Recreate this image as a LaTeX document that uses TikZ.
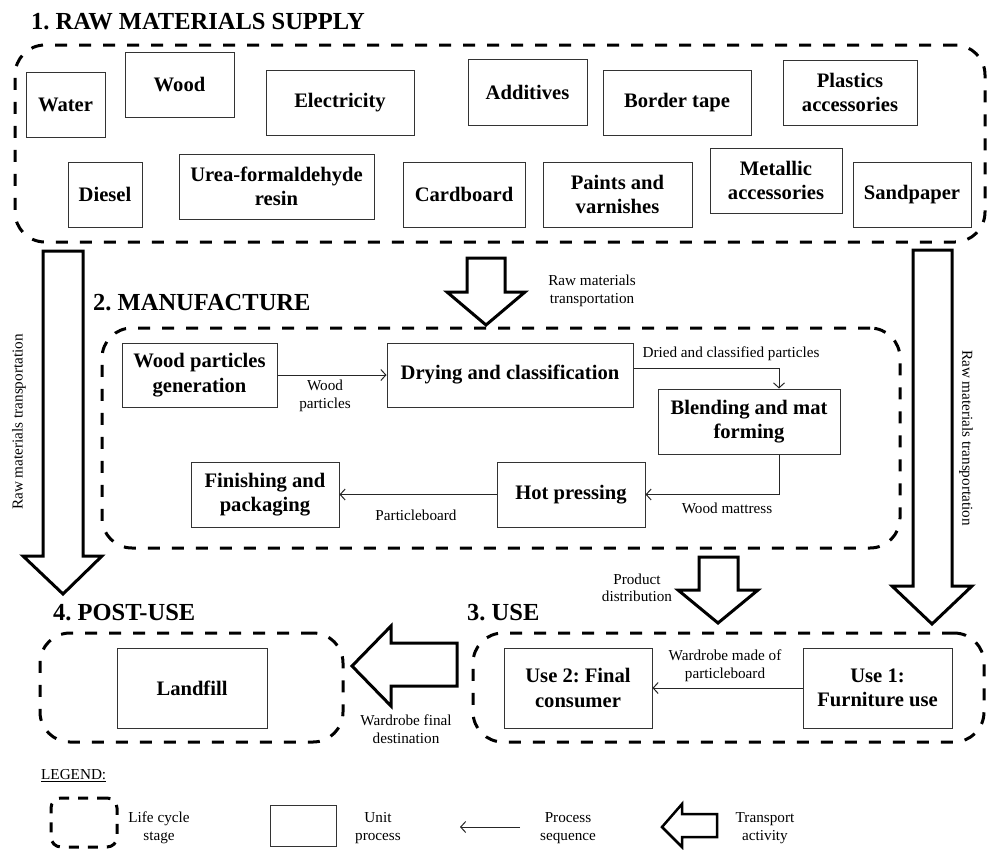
\documentclass[tikz,border=0pt]{standalone}
\usepackage{fontspec}
\setmainfont{Liberation Serif}
\usetikzlibrary{arrows.meta,calc}

\tikzset{
  stage/.style={draw, line width=3pt, dash pattern=on 12pt off 12pt, rounded corners=30pt},
  ubox/.style={draw=black!80, line width=1pt, fill=white, align=center, inner sep=0pt,
    font=\fontsize{20.6}{24.5}\selectfont\bfseries},
  lbl/.style={align=center, inner sep=0pt, font=\fontsize{15.2}{17.5}\selectfont},
  ttl/.style={anchor=base west, inner sep=0pt, font=\fontsize{24.5}{28}\selectfont\bfseries},
  flow/.style={draw=black!85, line width=1pt, -{Straight Barb[length=5pt,width=11pt]}},
  transport/.style={draw, line width=3pt, fill=white, line join=miter, miter limit=10},
}

\begin{document}
\begin{tikzpicture}[x=1pt, y=-1pt]
\useasboundingbox (0,0) rectangle (990,849);

% ---------- 1. Raw materials supply ----------
\node[ttl] (t1) at (31,29) {1.\ RAW MATERIALS SUPPLY};
\node[stage, minimum width=970pt, minimum height=197pt] (s1) at (500,143.5) {};

\node[ubox, minimum width=79pt,  minimum height=65pt] (water) at (65.5,104.5) {Water};
\node[ubox, minimum width=109pt, minimum height=65pt] (wood)  at (179.5,84.5) {Wood};
\node[ubox, minimum width=148pt, minimum height=65pt] (elec)  at (340,102.5) {Electricity};
\node[ubox, minimum width=119pt, minimum height=66pt] (addi)  at (527.5,92) {Additives};
\node[ubox, minimum width=148pt, minimum height=65pt] (tape)  at (677,102.5) {Border tape};
\node[ubox, minimum width=134pt, minimum height=65pt] (plas)  at (850,92.5) {Plastics\\accessories};

\node[ubox, minimum width=74pt,  minimum height=65pt] (dies)  at (105,194.5) {Diesel};
\node[ubox, minimum width=195pt, minimum height=65pt] (urea)  at (276.5,186.5) {Urea-formaldehyde\\resin};
\node[ubox, minimum width=122pt, minimum height=65pt] (card)  at (464,194.5) {Cardboard};
\node[ubox, minimum width=149pt, minimum height=65pt] (paint) at (617.5,194.5) {Paints and\\varnishes};
\node[ubox, minimum width=132pt, minimum height=65pt] (metal) at (776,180.5) {Metallic\\accessories};
\node[ubox, minimum width=118pt, minimum height=65pt] (sand)  at (912,194.5) {Sandpaper};

% ---------- transport from raw materials ----------
\draw[transport] (43,251) -- (83,251) -- (83,556) -- (102,556) -- (63,594) -- (23,556) -- (43,556) -- cycle;
\node[lbl, rotate=90] (tleft) at (19,422) {Raw materials transportation};

\draw[transport] (913,250) -- (952,250) -- (952,586) -- (972,586) -- (932,624) -- (892,586) -- (913,586) -- cycle;
\node[lbl, rotate=-90] (tright) at (966,438) {Raw materials transportation};

\draw[transport] (467,258) -- (505,258) -- (505,292) -- (525,292) -- (486,325) -- (447,292) -- (467,292) -- cycle;
\node[lbl] (tmid) at (592,291) {Raw materials\\transportation};

% ---------- 2. Manufacture ----------
\node[ttl] (t2) at (93,310) {2.\ MANUFACTURE};
\node[stage, minimum width=798pt, minimum height=220pt] (s2) at (501,438) {};

\node[ubox, minimum width=155pt, minimum height=64pt] (wpg)   at (199.5,375) {Wood particles\\generation};
\node[ubox, minimum width=246pt, minimum height=64pt] (dry)   at (510,375) {Drying and classification};
\node[ubox, minimum width=182pt, minimum height=65pt] (blend) at (749,421.5) {Blending and mat\\forming};
\node[ubox, minimum width=148pt, minimum height=65pt] (hot)   at (571,494.5) {Hot pressing};
\node[ubox, minimum width=148pt, minimum height=65pt] (fin)   at (265,494.5) {Finishing and\\packaging};

\draw[flow] (wpg.east) -- (dry.west);
\node[lbl] (lwp) at (325,396) {Wood\\particles};
\draw[flow] ([yshift=7pt]dry.east) -| ([xshift=30pt]blend.north);
\node[lbl] (ldry) at (731,354) {Dried and classified particles};
\draw[flow] ([xshift=30pt]blend.south) |- (hot.east);
\node[lbl] (lmat) at (727,508) {Wood mattress};
\draw[flow] (hot.west) -- (fin.east);
\node[lbl] (lpb) at (416,515) {Particleboard};

% ---------- distribution ----------
\draw[transport] (699,557) -- (738,557) -- (738,590) -- (758,590) -- (718,623) -- (678,590) -- (699,590) -- cycle;
\node[lbl] (ldist) at (637,588) {Product\\distribution};

% ---------- 3. Use and 4. Post-use ----------
\node[ttl] (t3) at (467,620) {3.\ USE};
\node[ttl] (t4) at (53,620) {4.\ POST-USE};

\node[stage, minimum width=303pt, minimum height=109pt] (s4) at (191.5,687.5) {};
\node[ubox, minimum width=150pt, minimum height=80pt] (land) at (192,688) {Landfill};

\node[stage, minimum width=511pt, minimum height=109pt] (s3) at (728.5,687.5) {};
\node[ubox, minimum width=148pt, minimum height=80pt] (use2) at (578,688) {Use 2:\ Final\\consumer};
\node[ubox, minimum width=149pt, minimum height=80pt] (use1) at (877.5,688) {Use 1:\\Furniture use};

\draw[flow] (use1.west) -- (use2.east);
\node[lbl] (lward) at (725,666) {Wardrobe made of\\particleboard};

\draw[transport] (457,643) -- (457,686) -- (391,686) -- (391,706) -- (352,666) -- (391,626) -- (391,643) -- cycle;
\node[lbl] (lfinal) at (406,729) {Wardrobe final\\destination};

% ---------- legend ----------
\node[lbl, anchor=west] (leg) at (41,776) {\underline{LEGEND:}};

\node[draw, line width=3pt, dash pattern=on 10pt off 9pt, rounded corners=10pt,
      minimum width=66pt, minimum height=49pt] (kstage) at (84,822.5) {};
\node[lbl] (kstagel) at (159,828) {Life cycle\\stage};

\node[draw=black!80, line width=1pt, minimum width=66pt, minimum height=41pt] (kbox) at (303,825.5) {};
\node[lbl] (kboxl) at (378,828) {Unit\\process};

\coordinate (kfa) at (520,827);
\coordinate (kfb) at (460,827);
\draw[flow] (kfa) -- (kfb);
\node[lbl] (kflowl) at (568,828) {Process\\sequence};

\draw[transport, line width=2.5pt] (717,814) -- (717,837) -- (682,837) -- (682,847) -- (662,827) -- (682,804) -- (682,814) -- cycle;
\node[lbl] (ktrl) at (765,828) {Transport\\activity};
\end{tikzpicture}
\end{document}
